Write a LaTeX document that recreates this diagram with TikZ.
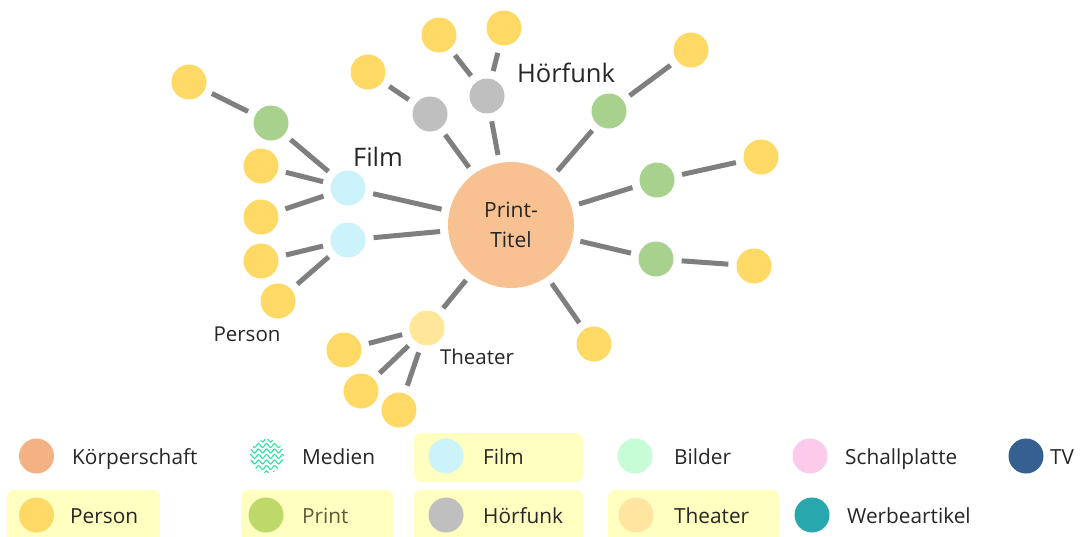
\documentclass[tikz,border=0pt]{standalone}
\usepackage{fontspec}
\setmainfont{Open Sans}
\usetikzlibrary{decorations.pathmorphing}

\definecolor{koerper}{HTML}{F4B183}
\definecolor{filmc}{HTML}{CCF3FC}
\definecolor{bilder}{HTML}{C6FCD6}
\definecolor{schall}{HTML}{FCCBEB}
\definecolor{tvc}{HTML}{35608F}
\definecolor{person}{HTML}{FFD966}
\definecolor{printlg}{HTML}{BDD96A}
\definecolor{printg}{HTML}{A9D18E}
\definecolor{hoerf}{HTML}{BFBFBF}
\definecolor{theaterlg}{HTML}{FFE5A0}
\definecolor{theaterg}{HTML}{FFE699}
\definecolor{werbe}{HTML}{28A8AD}
\definecolor{titel}{HTML}{F8C191}
\definecolor{edgec}{HTML}{7F7F7F}
\definecolor{medien}{HTML}{2EE59D}
\definecolor{hilite}{HTML}{FFFFBF}
\definecolor{txt}{HTML}{262626}

\begin{document}
\begin{tikzpicture}[x=1pt, y=-1pt,
    dot/.style={circle, minimum size=35pt, inner sep=0pt},
    link/.style={draw=edgec, line width=5pt, shorten <=8pt, shorten >=8pt},
    lbl/.style={text=txt, inner sep=0pt, font=\fontsize{20.5}{24}\selectfont},
    big/.style={text=txt, inner sep=0pt, font=\fontsize{25.5}{30}\selectfont},
    lgtext/.style={text=txt, anchor=base west, inner sep=0pt, font=\fontsize{20.8}{24}\selectfont},
    lgbox/.style={fill=hilite, rounded corners=7pt}]
    \useasboundingbox (0,0) rectangle (1087,536);

    % centre
    \node[circle, fill=titel, minimum size=126pt, inner sep=0pt, align=center, text=txt,
          font=\fontsize{21}{29.5}\selectfont] (c) at (511,225) {Print-\\Titel};

    % film
    \node[dot, fill=filmc] (f1) at (348,188) {};
    \node[dot, fill=filmc] (f2) at (348,240) {};
    % hoerfunk
    \node[dot, fill=hoerf] (h1) at (430,114) {};
    \node[dot, fill=hoerf] (h2) at (487,96) {};
    % print
    \node[dot, fill=printg] (g1) at (271,123) {};
    \node[dot, fill=printg] (g2) at (609,111) {};
    \node[dot, fill=printg] (g3) at (657,180) {};
    \node[dot, fill=printg] (g4) at (656,259) {};
    % theater
    \node[dot, fill=theaterg] (t1) at (427,328) {};
    % persons
    \node[dot, fill=person] (p1) at (189,82) {};
    \node[dot, fill=person] (p2) at (368,72) {};
    \node[dot, fill=person] (p3) at (439,35) {};
    \node[dot, fill=person] (p4) at (504,28) {};
    \node[dot, fill=person] (p5) at (691,50) {};
    \node[dot, fill=person] (p6) at (261,166) {};
    \node[dot, fill=person] (p7) at (261,217) {};
    \node[dot, fill=person] (p8) at (261,261) {};
    \node[dot, fill=person] (p9) at (278,301) {};
    \node[dot, fill=person] (p10) at (761,157) {};
    \node[dot, fill=person] (p11) at (754,266) {};
    \node[dot, fill=person] (p12) at (594,344) {};
    \node[dot, fill=person] (p13) at (344,350) {};
    \node[dot, fill=person] (p14) at (361,391) {};
    \node[dot, fill=person] (p15) at (399,410) {};

    \foreach \a/\b in {c/f1, c/f2, c/h1, c/h2, c/g2, c/g3, c/g4, c/p12, c/t1,
                       f1/g1, g1/p1, f1/p6, f1/p7, f2/p8, f2/p9,
                       h1/p2, h2/p3, h2/p4, g2/p5, g3/p10, g4/p11,
                       t1/p13, t1/p14, t1/p15}
        \draw[link] (\a) -- (\b);

    % labels
    \node[big] (lfilm) at (378,157) {Film};
    \node[big] (lhoer) at (566,73) {Hörfunk};
    \node[lbl] (lperson) at (247,334) {Person};
    \node[lbl] (ltheater) at (477,357) {Theater};

    % legend
    \fill[lgbox] (414,433) rectangle (583,482);
    \fill[lgbox] (7,490) rectangle (160,548);
    \fill[lgbox] (241,490) rectangle (393,548);
    \fill[lgbox] (414,490) rectangle (583,548);
    \fill[lgbox] (608,490) rectangle (779,548);

    \node[dot, fill=koerper] (kk) at (36.5,456) {};
    \node[lgtext] at (72,464) {Körperschaft};
    \node[dot] (km) at (267,456) {};
    \begin{scope}
        \clip (km.center) circle [radius=17pt];
        \foreach \yy in {-16,-10.5,...,17}
            \draw[medien, line width=1.1pt, decorate, decoration={snake, amplitude=2pt, segment length=8pt}]
                (248,{456+\yy}) -- (287,{456+\yy});
    \end{scope}
    \node[lgtext] at (302,464) {Medien};
    \node[dot, fill=filmc] (kf) at (446,456) {};
    \node[lgtext] at (483,464) {Film};
    \node[dot, fill=bilder] (kb) at (635,456) {};
    \node[lgtext] at (674,464) {Bilder};
    \node[dot, fill=schall] (ks) at (810,456) {};
    \node[lgtext] at (845,464) {Schallplatte};
    \node[dot, fill=tvc] (kt) at (1026,456) {};
    \node[lgtext] at (1050,464) {TV};

    \node[dot, fill=person] (kp) at (36.5,515) {};
    \node[lgtext] at (70,523) {Person};
    \node[dot, fill=printlg] (kpr) at (266,515) {};
    \node[lgtext, text={rgb,255:red,92;green,92;blue,56}] at (302,523) {Print};
    \node[dot, fill=hoerf] (kh) at (446,515) {};
    \node[lgtext] at (483,523) {Hörfunk};
    \node[dot, fill=theaterlg] (kth) at (636,515) {};
    \node[lgtext] at (674,523) {Theater};
    \node[dot, fill=werbe] (kw) at (812,515) {};
    \node[lgtext] at (847,523) {Werbeartikel};
\end{tikzpicture}
\end{document}
